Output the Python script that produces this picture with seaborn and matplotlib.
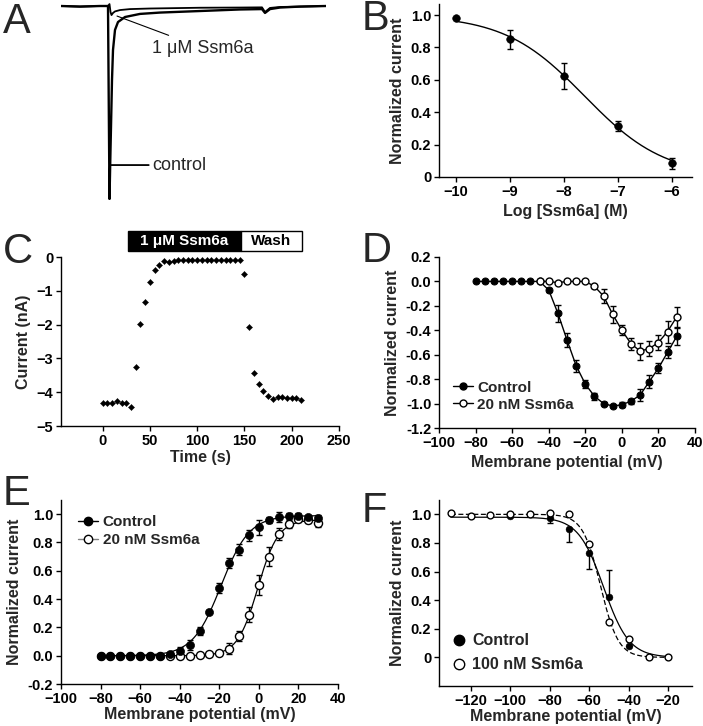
import numpy as np
import pandas as pd
import matplotlib
matplotlib.use("Agg")
import matplotlib.pyplot as plt
import seaborn as sns
from matplotlib.patches import Rectangle
from matplotlib.lines import Line2D

# ---------------- DATA ----------------
# Panel A: current traces (time ms, current nA)
trace_ctrl_t = [0, 3.8, 7.8, 9.4, 9.7, 9.9, 10.0, 10.2, 10.4, 10.8, 11.4, 12.8, 15.8, 19.8, 27.8, 35.8, 40.2, 40.8, 41.8, 43.8, 47.8, 53.0]
trace_ctrl_i = [0, -0.03, 0, 0, -10.0, -7.46, -6.27, -3.83, -2.28, -1.24, -0.83, -0.57, -0.41, -0.34, -0.26, -0.18, -0.16, -0.36, -0.16, -0.08, -0.03, 0]
trace_tox_t = [0, 3.8, 7.8, 9.4, 9.7, 9.9, 10.1, 10.4, 10.8, 11.8, 13.8, 17.8, 27.8, 35.8, 40.2, 40.8, 41.8, 43.8, 47.8, 53.0]
trace_tox_i = [0, -0.03, 0, 0, 0.10, -0.31, -0.47, -0.36, -0.28, -0.21, -0.16, -0.13, -0.09, -0.08, -0.07, -0.31, -0.10, -0.05, -0.03, 0]

# Panel B: concentration-response
logc_B = [-10, -9, -8, -7, -6]
norm_B = [0.979, 0.849, 0.626, 0.314, 0.085]
err_B = [0.0, 0.06, 0.08, 0.03, 0.035]

# Panel C: time course
time_C = [0, 5, 10, 15, 20, 25, 30, 35, 40, 45, 50, 55, 60, 65, 70, 75,
          80, 85, 90, 95, 100, 105, 110, 115, 120, 125, 130, 135, 140, 145,
          150, 155, 160, 165, 170, 175, 180, 185, 190, 195, 200, 205, 210]
curr_C = [-4.32, -4.32, -4.31, -4.27, -4.31, -4.32, -4.43, -3.25, -1.97, -1.32, -0.73, -0.37, -0.23, -0.13, -0.15, -0.12,
          -0.10, -0.10, -0.10, -0.10, -0.10, -0.10, -0.10, -0.10, -0.10, -0.10, -0.10, -0.10, -0.10, -0.10,
          -0.51, -2.08, -3.42, -3.76, -3.97, -4.10, -4.20, -4.15, -4.15, -4.17, -4.18, -4.18, -4.22]
toxin_on, toxin_off, wash_end = 26.5, 146.0, 211.0

# Panel D: I-V
v_D = [-80, -75, -70, -65, -60, -55, -50, -45, -40, -35, -30, -25, -20, -15, -10, -5, 0, 5, 10, 15, 20, 25, 30]
ctrl_D = [0, 0, 0, 0, 0, 0, 0, 0, -0.07, -0.26, -0.48, -0.69, -0.84, -0.94, -1.00, -1.02, -1.01, -0.98, -0.93, -0.82, -0.71, -0.58, -0.45]
ctrl_D_err = [0, 0, 0, 0, 0, 0, 0, 0, 0.02, 0.07, 0.06, 0.05, 0.035, 0.03, 0.015, 0.01, 0.02, 0.02, 0.05, 0.05, 0.04, 0.05, 0.07]
v_D_tox = [-45, -40, -35, -30, -25, -20, -15, -10, -5, 0, 5, 10, 15, 20, 25, 30]
tox_D = [0, 0, -0.01, 0, 0, 0, -0.04, -0.12, -0.27, -0.40, -0.51, -0.57, -0.55, -0.50, -0.41, -0.29]
tox_D_err = [0, 0, 0, 0, 0, 0, 0.01, 0.06, 0.07, 0.04, 0.05, 0.07, 0.06, 0.06, 0.09, 0.08]

# Panel E: conductance-voltage
v_E = [-80, -75, -70, -65, -60, -55, -50, -45, -40, -35, -30, -25, -20, -15, -10, -5, 0, 5, 10, 15, 20, 25, 30]
ctrl_E = [0, 0, 0, 0, 0, 0, 0, 0.01, 0.03, 0.073, 0.176, 0.31, 0.48, 0.655, 0.75, 0.85, 0.906, 0.96, 0.98, 0.99, 0.99, 0.98, 0.976]
ctrl_E_err = [0, 0, 0, 0, 0, 0, 0, 0.01, 0.03, 0.035, 0.03, 0.01, 0.035, 0.035, 0.04, 0.04, 0.05, 0.02, 0.035, 0.02, 0.02, 0.01, 0.015]
tox_E = [0, 0, 0, 0, 0, 0, 0, 0, 0, 0, 0.005, 0.01, 0.02, 0.05, 0.14, 0.29, 0.50, 0.70, 0.86, 0.93, 0.965, 0.96, 0.94]
tox_E_err = [0, 0, 0, 0, 0, 0, 0, 0, 0, 0, 0, 0, 0.01, 0.04, 0.035, 0.055, 0.07, 0.065, 0.04, 0.03, 0.02, 0.02, 0.03]

# Panel F: steady-state inactivation
v_F_ctrl = [-100, -80, -70, -60, -50, -40]
ctrl_F = [0.99, 0.977, 0.895, 0.73, 0.42, 0.08]
ctrl_F_err_lo = [0, 0.04, 0.09, 0.11, 0, 0]
ctrl_F_err_hi = [0, 0.015, 0, 0, 0.19, 0]
v_F_tox = [-130, -120, -110, -100, -90, -80, -70, -60, -50, -40, -30, -20]
tox_F = [1.01, 0.99, 0.995, 1.0, 1.0, 1.01, 1.005, 0.79, 0.25, 0.13, 0.005, 0.005]


# ---------------- FITS (least squares grid search on the read values) ----------------
def grid_fit(model, x, y, p1, p2):
    x = np.asarray(x, float)
    y = np.asarray(y, float)
    P1, P2 = np.meshgrid(p1, p2, indexing="ij")
    pred = model(x[None, None, :], P1[..., None], P2[..., None])
    sse = ((pred - y[None, None, :]) ** 2).sum(-1)
    i, j = np.unravel_index(np.argmin(sse), sse.shape)
    return p1[i], p2[j]


def hill(x, x50, n):
    return 1.0 / (1.0 + 10 ** ((x - x50) * n))


def act(top):
    return lambda v, vh, k: top / (1.0 + np.exp((vh - v) / k))


def inact(top):
    return lambda v, vh, k: top / (1.0 + np.exp((v - vh) / k))


# ---------------- STYLE ----------------
sns.set_style("ticks")
plt.rcParams["font.family"] = ["Liberation Sans", "DejaVu Sans"]
plt.rcParams["font.weight"] = "bold"
plt.rcParams["axes.labelweight"] = "bold"
plt.rcParams["axes.linewidth"] = 1.0
plt.rcParams["xtick.major.width"] = 1.0
plt.rcParams["ytick.major.width"] = 1.0
plt.rcParams["xtick.major.size"] = 3.5
plt.rcParams["ytick.major.size"] = 3.5
plt.rcParams["xtick.labelsize"] = 10.5
plt.rcParams["ytick.labelsize"] = 10.5
plt.rcParams["axes.labelsize"] = 11.5
plt.rcParams["xtick.color"] = "black"
plt.rcParams["ytick.color"] = "black"
plt.rcParams["axes.edgecolor"] = "black"

W, H = 703, 726
fig = plt.figure(figsize=(W / 100, H / 100), dpi=100)

EB = dict(fmt="none", ecolor="black", elinewidth=1, capsize=2.5, capthick=1)


def add_ax(left, right, top, bottom):
    return fig.add_axes([left / W, 1 - bottom / H, (right - left) / W, (bottom - top) / H])


def style(ax):
    sns.despine(ax=ax)
    ax.tick_params(direction="out", pad=2)
    for lab in ax.get_xticklabels() + ax.get_yticklabels():
        lab.set_fontweight("bold")


# ---------------- A ----------------
axA = add_ax(61, 326, 0, 200)
sns.lineplot(x=trace_tox_t, y=trace_tox_i, ax=axA, color="black", lw=1.3, sort=False, estimator=None)
sns.lineplot(x=trace_ctrl_t, y=trace_ctrl_i, ax=axA, color="black", lw=1.7, sort=False, estimator=None)
axA.set_xlim(0, 53)
axA.set_ylim(-10.05, 0.311)
axA.axis("off")
axA.annotate("control", xy=(9.9, -8.24), xytext=(18.2, -8.24), fontsize=13, fontweight="normal",
             va="center", ha="left", arrowprops=dict(arrowstyle="-", lw=1.3, color="black", shrinkA=0, shrinkB=0))
axA.annotate("1 \u03bcM Ssm6a", xy=(11.2, -0.52), xytext=(18.2, -2.18), fontsize=13, fontweight="normal",
             va="center", ha="left", arrowprops=dict(arrowstyle="-", lw=0.8, color="black", shrinkA=2, shrinkB=0))

# ---------------- B ----------------
axB = add_ax(439, 692, 4, 177)
x50, nH = grid_fit(hill, logc_B, norm_B, np.linspace(-9, -6, 301), np.linspace(0.3, 1.5, 241))
xs = np.linspace(-10, -6, 200)
sns.lineplot(x=xs, y=hill(xs, x50, nH), ax=axB, color="black", lw=1.0)
axB.errorbar(logc_B, norm_B, yerr=err_B, **EB)
sns.scatterplot(x=logc_B, y=norm_B, ax=axB, color="black", s=30, edgecolor="black", zorder=5)
axB.set_xlim(-10.315, -5.63)
axB.set_ylim(0, 1.068)
axB.set_xticks([-10, -9, -8, -7, -6])
axB.set_yticks([0, 0.2, 0.4, 0.6, 0.8, 1.0])
axB.set_yticklabels(["0", "0.2", "0.4", "0.6", "0.8", "1.0"])
axB.set_xlabel("Log [Ssm6a] (M)")
axB.set_ylabel("Normalized current")
style(axB)

# ---------------- C ----------------
axC = add_ax(61, 339, 257, 426)
sns.scatterplot(x=time_C, y=curr_C, ax=axC, marker="D", color="black", s=10, edgecolor="black", zorder=5)
axC.set_xlim(-44, 250)
axC.set_ylim(-5, 0)
axC.set_xticks([0, 50, 100, 150, 200, 250])
axC.set_yticks([0, -1, -2, -3, -4, -5])
axC.set_xlabel("Time (s)", labelpad=2)
axC.set_ylabel("Current (nA)")
axC.add_patch(Rectangle((toxin_on, 0.18), toxin_off - toxin_on, 0.59, facecolor="black", edgecolor="black",
                        lw=1, clip_on=False))
axC.add_patch(Rectangle((toxin_off, 0.18), wash_end - toxin_off, 0.59, facecolor="white", edgecolor="black",
                        lw=1, clip_on=False))
axC.text((toxin_on + toxin_off) / 2, 0.475, "1 \u03bcM Ssm6a", color="white", fontsize=11, fontweight="bold",
         ha="center", va="center", clip_on=False)
axC.text((toxin_off + wash_end) / 2, 0.475, "Wash", color="black", fontsize=11, fontweight="bold",
         ha="center", va="center", clip_on=False)
style(axC)

# ---------------- D ----------------
axD = add_ax(439, 695, 257, 428)
axD.errorbar(v_D, ctrl_D, yerr=ctrl_D_err, **EB)
axD.errorbar(v_D_tox, tox_D, yerr=tox_D_err, **EB)
sns.lineplot(x=v_D, y=ctrl_D, ax=axD, color="black", lw=1, marker="o", markersize=5,
             markerfacecolor="black", markeredgecolor="black")
sns.lineplot(x=v_D_tox, y=tox_D, ax=axD, color="black", lw=1, marker="o", markersize=5,
             markerfacecolor="white", markeredgecolor="black", markeredgewidth=1)
axD.set_xlim(-100, 40)
axD.set_ylim(-1.2, 0.2)
axD.set_xticks([-100, -80, -60, -40, -20, 0, 20, 40])
axD.set_yticks([0.2, 0.0, -0.2, -0.4, -0.6, -0.8, -1.0, -1.2])
axD.yaxis.set_major_formatter(matplotlib.ticker.FormatStrFormatter("%.1f"))
axD.set_xlabel("Membrane potential (mV)")
axD.set_ylabel("Normalized current")
hD = [Line2D([], [], color="black", lw=1, marker="o", ms=5, mfc="black", mec="black"),
      Line2D([], [], color="black", lw=1, marker="o", ms=5, mfc="white", mec="black")]
axD.legend(hD, ["Control", "20 nM Ssm6a"], loc="lower left", frameon=False, handlelength=1.3,
           handletextpad=0.3, borderaxespad=0.0, labelspacing=0.2, prop=dict(size=11, weight="bold"),
           bbox_to_anchor=(0.03, 0.06))
style(axD)

# ---------------- E ----------------
axE = add_ax(61, 338, 500, 684)
vs = np.linspace(-80, 30, 300)
vh_c, k_c = grid_fit(act(0.99), v_E, ctrl_E, np.linspace(-40, 10, 501), np.linspace(2, 12, 201))
vh_t, k_t = grid_fit(act(0.96), v_E, tox_E, np.linspace(-40, 10, 501), np.linspace(2, 12, 201))
sns.lineplot(x=vs, y=act(0.99)(vs, vh_c, k_c), ax=axE, color="black", lw=0.9)
sns.lineplot(x=vs, y=act(0.96)(vs, vh_t, k_t), ax=axE, color="black", lw=0.9)
axE.errorbar(v_E, tox_E, yerr=tox_E_err, **EB)
axE.errorbar(v_E, ctrl_E, yerr=ctrl_E_err, **EB)
sns.scatterplot(x=v_E, y=tox_E, ax=axE, color="white", edgecolor="black", linewidth=1, s=34, zorder=5)
sns.scatterplot(x=v_E, y=ctrl_E, ax=axE, color="black", edgecolor="black", s=34, zorder=6)
axE.set_xlim(-100, 40)
axE.set_ylim(-0.2, 1.1)
axE.set_xticks([-100, -80, -60, -40, -20, 0, 20, 40])
axE.set_yticks([1.0, 0.8, 0.6, 0.4, 0.2, 0.0, -0.2])
axE.yaxis.set_major_formatter(matplotlib.ticker.FormatStrFormatter("%.1f"))
axE.set_xlabel("Membrane potential (mV)", labelpad=1)
axE.set_ylabel("Normalized current")
hE = [Line2D([], [], color="black", lw=1, marker="o", ms=6, mfc="black", mec="black"),
      Line2D([], [], color="gray", lw=1, marker="o", ms=6, mfc="white", mec="black")]
axE.legend(hE, ["Control", "20 nM Ssm6a"], loc="upper left", frameon=False, handlelength=1.3,
           handletextpad=0.3, borderaxespad=0.0, labelspacing=0.25, prop=dict(size=11, weight="bold"),
           bbox_to_anchor=(0.04, 0.95))
style(axE)

# ---------------- F ----------------
axF = add_ax(439, 692, 500, 686)
vsF = np.linspace(-130, -20, 300)
vh_fc, k_fc = grid_fit(inact(0.98), v_F_ctrl, ctrl_F, np.linspace(-80, -30, 501), np.linspace(2, 12, 201))
vh_ft, k_ft = grid_fit(inact(1.0), v_F_tox, tox_F, np.linspace(-80, -30, 501), np.linspace(2, 12, 201))
sns.lineplot(x=vsF, y=inact(0.98)(vsF, vh_fc, k_fc), ax=axF, color="black", lw=0.9)
sns.lineplot(x=vsF, y=inact(1.0)(vsF, vh_ft, k_ft), ax=axF, color="black", lw=0.9, linestyle=(0, (4, 2)))
axF.errorbar(v_F_ctrl, ctrl_F, yerr=[ctrl_F_err_lo, ctrl_F_err_hi], **EB)
sns.scatterplot(x=v_F_ctrl, y=ctrl_F, ax=axF, color="black", edgecolor="black", s=24, zorder=5)
sns.scatterplot(x=v_F_tox, y=tox_F, ax=axF, color="white", edgecolor="black", linewidth=1, s=24, zorder=6)
axF.set_xlim(-136, -8)
axF.set_ylim(-0.2, 1.1)
axF.set_xticks([-120, -100, -80, -60, -40, -20])
axF.set_yticks([0, 0.2, 0.4, 0.6, 0.8, 1.0])
axF.set_yticklabels(["0", "0.2", "0.4", "0.6", "0.8", "1.0"])
axF.set_xlabel("Membrane potential (mV)", labelpad=1)
axF.set_ylabel("Normalized current")
hF = [Line2D([], [], ls="none", marker="o", ms=7.5, mfc="black", mec="black"),
      Line2D([], [], ls="none", marker="o", ms=7.5, mfc="white", mec="black")]
axF.legend(hF, ["Control", "100 nM Ssm6a"], loc="lower left", frameon=False, handlelength=0.8,
           handletextpad=0.4, borderaxespad=0.0, labelspacing=0.55, prop=dict(size=11.5, weight="bold"),
           bbox_to_anchor=(0.03, 0.04))
style(axF)

# ---------------- panel letters ----------------
for letter, x, yb in [("A", 3, 33), ("B", 362, 30), ("C", 3, 263), ("D", 362, 262), ("E", 3, 505), ("F", 362, 522)]:
    fig.text(x / W, 1 - yb / H, letter, fontsize=30, fontweight="normal", va="baseline", ha="left")

fig.savefig("out.png", dpi=100)
